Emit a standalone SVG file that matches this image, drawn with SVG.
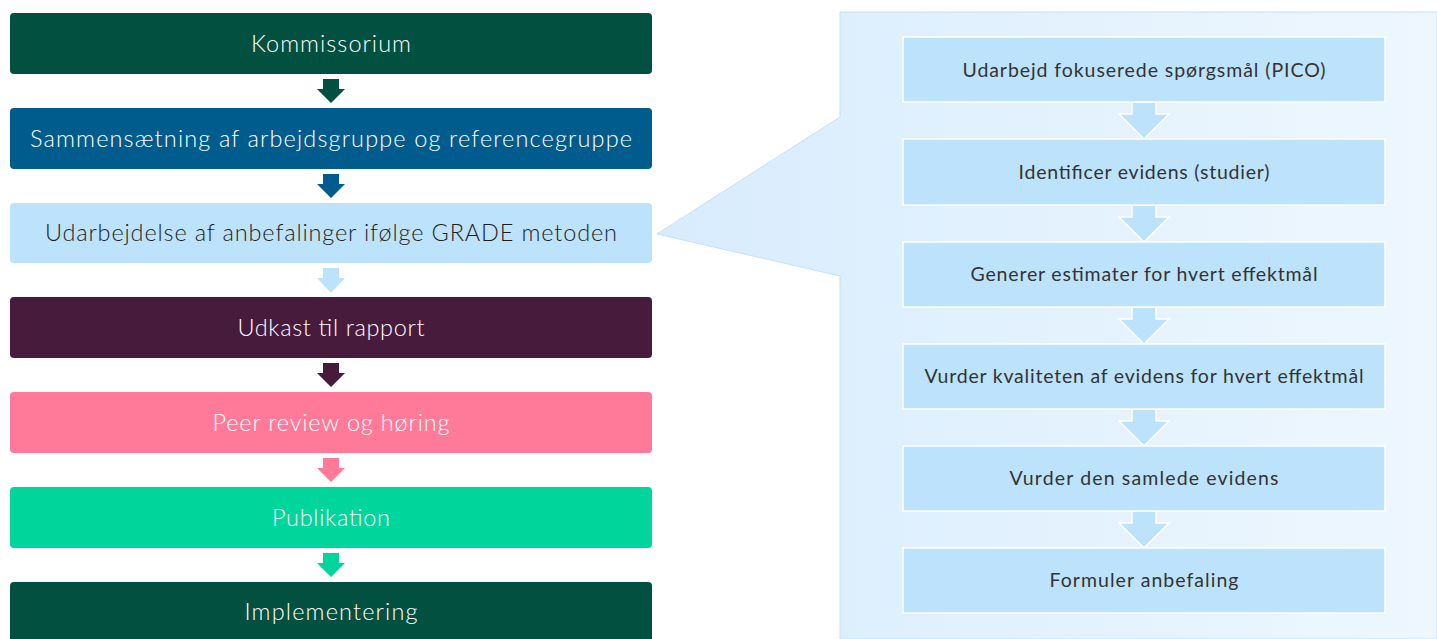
<svg xmlns="http://www.w3.org/2000/svg" width="1437" height="639" viewBox="0 0 1437 639">
<defs>
<linearGradient id="pg" gradientUnits="userSpaceOnUse" x1="657" y1="0" x2="1437" y2="0">
<stop offset="0" stop-color="#d8ecfd"/>
<stop offset="1" stop-color="#eef7fe"/>
</linearGradient>
</defs>
<style>
.lt{font-family:Lato,"Open Sans","Liberation Sans",sans-serif;font-size:23.5px;font-weight:300;text-anchor:middle;fill:#ffffff}
.rt{font-family:Lato,"Open Sans","Liberation Sans",sans-serif;font-size:19.5px;font-weight:400;text-anchor:middle;fill:#333333}
.rb{fill:#bde3fc;stroke:#ffffff;stroke-width:1.5}
.ra{fill:#bde3fc;stroke:#ffffff;stroke-width:1.5}
</style>
<rect width="1437" height="639" fill="#ffffff"/>
<g id="panel">
<path d="M840,12 H1437 V639 H840 V276 L657,234 L840,117 Z" fill="url(#pg)" stroke="#c2e1fb" stroke-width="1"/>
</g>
<g id="connectors">
<path d="M323,79H339V89H345L331,103L317,89H323Z" fill="#02503f"/>
<path d="M323,174H339V184H345L331,198L317,184H323Z" fill="#015c8e"/>
<path d="M323,268H339V278H345L331,293L317,278H323Z" fill="#bde3fc"/>
<path d="M323,363H339V373H345L331,387L317,373H323Z" fill="#471b3c"/>
<path d="M323,458H339V468H345L331,482L317,468H323Z" fill="#ff7a98"/>
<path d="M323,553H339V563H345L331,577L317,563H323Z" fill="#00d69c"/>
<path class="ra" d="M1132,102H1156V114H1169L1144,139L1119,114H1132Z"/>
<path class="ra" d="M1132,205H1156V217H1169L1144,242L1119,217H1132Z"/>
<path class="ra" d="M1132,307H1156V319H1169L1144,344L1119,319H1132Z"/>
<path class="ra" d="M1132,409H1156V421H1169L1144,446L1119,421H1132Z"/>
<path class="ra" d="M1132,511H1156V523H1169L1144,548L1119,523H1132Z"/>
</g>
<g id="n1"><rect x="10" y="13" width="642" height="61" rx="4" fill="#02503f"/><text class="lt" x="331" y="51.5" textLength="160">Kommissorium</text></g>
<g id="n2"><rect x="10" y="108" width="642" height="61" rx="4" fill="#015c8e"/><text class="lt" x="331" y="146.5" textLength="602">Sammensætning af arbejdsgruppe og referencegruppe</text></g>
<g id="n3"><rect x="10" y="203" width="642" height="60" rx="4" fill="#bde3fc"/><text class="lt" x="331" y="241" textLength="572" style="fill:#1d1d1b">Udarbejdelse af anbefalinger ifølge GRADE metoden</text></g>
<g id="n4"><rect x="10" y="297" width="642" height="61" rx="4" fill="#471b3c"/><text class="lt" x="331" y="335.5" textLength="187">Udkast til rapport</text></g>
<g id="n5"><rect x="10" y="392" width="642" height="61" rx="4" fill="#ff7a98"/><text class="lt" x="331" y="430.5" textLength="237">Peer review og høring</text></g>
<g id="n6"><rect x="10" y="487" width="642" height="61" rx="4" fill="#00d69c"/><text class="lt" x="331" y="525.5" textLength="118">Publikation</text></g>
<g id="n7"><rect x="10" y="582" width="642" height="70" rx="4" fill="#02503f"/><text class="lt" x="331" y="620" textLength="173">Implementering</text></g>
<g id="r1"><rect class="rb" x="903" y="37" width="482" height="65"/><text class="rt" x="1144" y="76.5" textLength="363">Udarbejd fokuserede spørgsmål (PICO)</text></g>
<g id="r2"><rect class="rb" x="903" y="139" width="482" height="66"/><text class="rt" x="1144" y="178.5" textLength="251">Identificer evidens (studier)</text></g>
<g id="r3"><rect class="rb" x="903" y="242" width="482" height="65"/><text class="rt" x="1144" y="280.5" textLength="347">Generer estimater for hvert effektmål</text></g>
<g id="r4"><rect class="rb" x="903" y="344" width="482" height="65"/><text class="rt" x="1144" y="382.5" textLength="439">Vurder kvaliteten af evidens for hvert effektmål</text></g>
<g id="r5"><rect class="rb" x="903" y="446" width="482" height="65"/><text class="rt" x="1144" y="484.5" textLength="269">Vurder den samlede evidens</text></g>
<g id="r6"><rect class="rb" x="903" y="548" width="482" height="65"/><text class="rt" x="1144" y="586.5" textLength="189">Formuler anbefaling</text></g>
</svg>
